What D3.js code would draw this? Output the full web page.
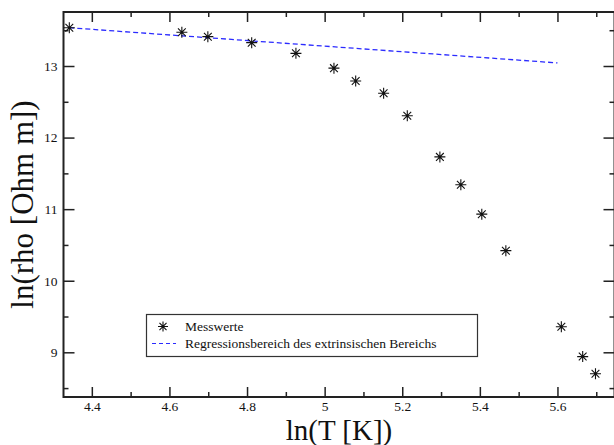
<!DOCTYPE html>
<html><head><meta charset="utf-8">
<script src="https://cdn.jsdelivr.net/npm/d3@7"></script>
<style>html,body{margin:0;padding:0;background:#fff;overflow:hidden} svg text{font-family:'Liberation Serif','Times New Roman',serif}</style>
</head><body>
<svg id="c" width="614" height="445"></svg>
<script>
// Data
const lnT = [4.342, 4.632, 4.699, 4.812, 4.926, 5.024, 5.080, 5.152, 5.213, 5.297, 5.351, 5.405, 5.467, 5.610, 5.665, 5.698];
const lnRho = [13.535, 13.471, 13.41, 13.326, 13.177, 12.97, 12.79, 12.62, 12.306, 11.73, 11.34, 10.93, 10.42, 9.357, 8.94, 8.70];
const regX = [4.342, 5.6];
const regY = [13.535, 13.043];
const xTicks = [4.4, 4.6, 4.8, 5, 5.2, 5.4, 5.6];
const xMinor = [4.5, 4.7, 4.9, 5.1, 5.3, 5.5, 5.7];
const yTicks = [9, 10, 11, 12, 13];
const yMinor = [8.5, 9.5, 10.5, 11.5, 12.5, 13.5];
const legendLabels = ["Messwerte", "Regressionsbereich des extrinsischen Bereichs"];
const xTitle = "ln(T [K])";
const yTitle = "ln(rho [Ohm m])";

const L = 63.5, R = 614.5, T = 12, B = 397;
const svg = d3.select("#c");
const x = d3.scaleLinear().domain([4.327, 5.747]).range([L, R]);
const y = d3.scaleLinear().domain([8.3755, 13.7545]).range([B, T]);
const font = "'Liberation Serif','Times New Roman',serif";
const axColor = "#222";

function styleAxis(g){
  g.attr("font-family", font);
  g.select(".domain").remove();
  g.selectAll("line").attr("stroke", axColor).attr("stroke-width", 1.5);
  g.selectAll("text").attr("font-family", font).attr("font-size", 13.5).attr("fill", "#111");
}
svg.append("g").attr("transform", `translate(0,${B})`)
  .call(d3.axisBottom(x).tickValues(xTicks).tickSize(-10).tickPadding(4).tickFormat(d3.format("")))
  .call(styleAxis);
svg.append("g").attr("transform", `translate(0,${B})`)
  .call(d3.axisBottom(x).tickValues(xMinor).tickSize(-5).tickFormat(""))
  .call(styleAxis);
svg.append("g").attr("transform", `translate(0,${T})`)
  .call(d3.axisTop(x).tickValues(xTicks).tickSize(-10).tickFormat(""))
  .call(styleAxis);
svg.append("g").attr("transform", `translate(0,${T})`)
  .call(d3.axisTop(x).tickValues(xMinor).tickSize(-5).tickFormat(""))
  .call(styleAxis);
svg.append("g").attr("transform", `translate(${L},0)`)
  .call(d3.axisLeft(y).tickValues(yTicks).tickSize(-11).tickPadding(6).tickFormat(d3.format("")))
  .call(styleAxis);
svg.append("g").attr("transform", `translate(${L},0)`)
  .call(d3.axisLeft(y).tickValues(yMinor).tickSize(-5).tickFormat(""))
  .call(styleAxis);
svg.append("g").attr("transform", `translate(${R},0)`)
  .call(d3.axisRight(y).tickValues(yTicks).tickSize(-11).tickFormat(""))
  .call(styleAxis);
svg.append("g").attr("transform", `translate(${R},0)`)
  .call(d3.axisRight(y).tickValues(yMinor).tickSize(-5).tickFormat(""))
  .call(styleAxis);

// frame
svg.append("rect").attr("x", L).attr("y", T).attr("width", R - L).attr("height", B - T)
  .attr("fill", "none").attr("stroke", axColor).attr("stroke-width", 2);

// regression line
const line = d3.line().x(d => x(d[0])).y(d => y(d[1]));
svg.append("path").datum(d3.zip(regX, regY)).attr("d", line)
  .attr("fill", "none").attr("stroke", "#2b2bff").attr("stroke-width", 1.3).attr("stroke-dasharray", "5,3");

// star markers
function star(g, cx, cy, r){
  const a = r * Math.SQRT1_2;
  const p = `M${cx-r},${cy}H${cx+r}M${cx},${cy-r}V${cy+r}M${cx-a},${cy-a}L${cx+a},${cy+a}M${cx-a},${cy+a}L${cx+a},${cy-a}`;
  g.append("path").attr("d", p).attr("stroke", "#111").attr("stroke-width", 1.1).attr("fill", "none");
}
const pts = svg.append("g");
d3.zip(lnT, lnRho).forEach(d => star(pts, x(d[0]), y(d[1]), 5.5));

// axis titles
svg.append("text").attr("x", (L + R) / 2).attr("y", 439.5).attr("text-anchor", "middle")
  .attr("font-family", font).attr("font-size", 29).attr("fill", "#111").text(xTitle);
svg.append("text").attr("transform", `translate(33,${(T + B) / 2}) rotate(-90)`).attr("text-anchor", "middle")
  .attr("font-family", font).attr("font-size", 31).attr("fill", "#111").text(yTitle);

// legend
const lg = svg.append("g");
lg.append("rect").attr("x", 146.5).attr("y", 314.5).attr("width", 331).attr("height", 42)
  .attr("fill", "#fff").attr("stroke", "#333").attr("stroke-width", 1.2);
star(lg, 163, 326.5, 5);
lg.append("text").attr("x", 185).attr("y", 331).attr("font-family", font).attr("font-size", 13.5).attr("fill", "#111").text(legendLabels[0]);
lg.append("line").attr("x1", 152).attr("x2", 176).attr("y1", 343.5).attr("y2", 343.5)
  .attr("stroke", "#2b2bff").attr("stroke-width", 1.2).attr("stroke-dasharray", "4,3");
lg.append("text").attr("x", 185).attr("y", 347.5).attr("font-family", font).attr("font-size", 13.5).attr("fill", "#111").text(legendLabels[1]);
</script>
</body></html>
